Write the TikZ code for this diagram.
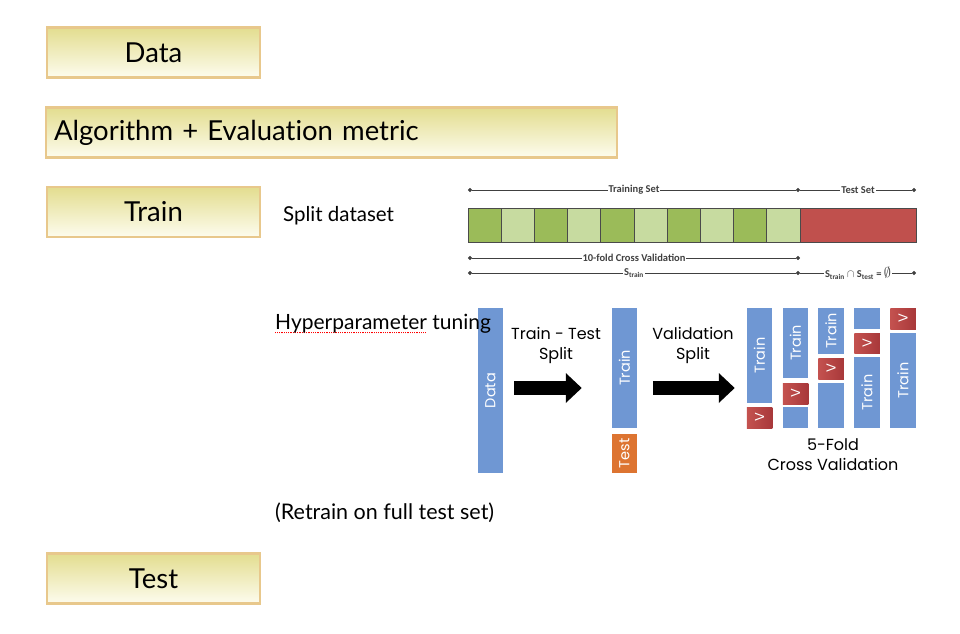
\documentclass[tikz,border=0pt]{standalone}
\usepackage{fontspec}
\usepackage{graphicx}
\setmainfont{Lato}[Ligatures=NoCommon]
\newfontfamily\gothicfont{Poppins}
\newfontfamily\calibfont{Carlito}
\usepackage{tikz}
\usetikzlibrary{calc,arrows.meta,positioning}
\definecolor{stageTop}{HTML}{E3DD8F}
\definecolor{stageBot}{HTML}{FDFCEE}
\definecolor{stageLine}{HTML}{E8C88C}
\definecolor{foldDark}{HTML}{9BBB59}
\definecolor{foldLight}{HTML}{C7DBA0}
\definecolor{testRed}{HTML}{C0504D}
\definecolor{cellLine}{HTML}{4A4A4A}
\definecolor{spanGrey}{HTML}{404040}
\definecolor{barBlue}{HTML}{6F97D3}
\definecolor{barOrange}{HTML}{DD7431}
\definecolor{vRed}{HTML}{C4524F}
\definecolor{vRedDark}{HTML}{A8383A}
\newsavebox\spellbox
\newcommand\spellmark[1]{\sbox\spellbox{#1}\rlap{\raisebox{-3.5pt}{\textcolor{red}{\leaders\hbox to 1.8pt{\rule{0.9pt}{0.9pt}\hss}\hskip\wd\spellbox}}}\usebox\spellbox}
\tikzset{
  stagebox/.style={rectangle, draw=stageLine, line width=2.4pt, top color=stageTop, bottom color=stageBot, minimum height=50, inner sep=0pt, font=\fontsize{27.5}{30}\selectfont},
  notetext/.style={inner sep=0pt, anchor=west, font=\fontsize{20.5}{24}\selectfont},
  % --- split bar ---
  foldcell/.style={rectangle, draw=cellLine, line width=0.8pt, minimum width=33.2, minimum height=34, inner sep=0pt, outer sep=0pt},
  spanline/.style={{Circle[length=4pt]}-{Circle[length=4pt]}, line width=0.7pt, draw=spanGrey},
  spanrest/.style={-{Circle[length=4pt]}, line width=0.7pt, draw=spanGrey},
  spanlabel/.style={fill=white, inner sep=1pt, text=spanGrey, font=\calibfont\bfseries\fontsize{10.5}{12}\selectfont},
  % --- cross validation sketch ---
  cvbar/.style={rectangle, fill=#1, minimum width=25.5, inner sep=0pt, outer sep=0pt, text=white, font=\gothicfont\fontsize{14.5}{16}\selectfont},
  cvbar/.default=barBlue,
  vbox/.style={rectangle, left color=vRed, right color=vRedDark, minimum width=25.5, inner sep=0pt, outer sep=0pt, text=white, font=\gothicfont\fontsize{13}{15}\selectfont},
  cvlabel/.style={align=center, inner sep=0pt, font=\gothicfont\fontsize{16}{20}\selectfont},
  bigarrow/.style={-{Triangle[length=16pt,width=29pt]}, line width=14pt, draw=black},
}

\begin{document}
\begin{tikzpicture}[x=1pt,y=-1pt]
  \useasboundingbox (0,0) rectangle (960,633);

  \node[stagebox, minimum width=213] (data) at (153.5,52.5) {Data};
  \node[stagebox, minimum width=571, text width=555, align=left] (algo) at (331.5,132.5) {Algorithm + Evaluation metric};
  \node[stagebox, minimum width=213] (train) at (153.5,212) {Train};
  \node[stagebox, minimum width=213] (test) at (153.5,578.5) {Test};

  \node[notetext] (split) at (283,216) {Split dataset};

  % 10 folds + test part
  \foreach \i in {0,...,9} {
    \ifodd\i \def\cellcol{foldLight}\else \def\cellcol{foldDark}\fi
    \node[foldcell, fill=\cellcol] (cell\i) at ({468+33.2*\i+16.6},225) {};
  }
  \node[foldcell, fill=testRed, minimum width=116] (testcell) at (858,225) {};

  \coordinate (tr0) at (cell0.north west |- 0,190);
  \coordinate (tr1) at (cell9.north east |- 0,190);
  \coordinate (tr2) at (testcell.north east |- 0,190);
  \coordinate (cv0) at (cell0.south west |- 0,258);
  \coordinate (cv1) at (cell9.south east |- 0,258);
  \coordinate (st0) at (cell0.south west |- 0,273);
  \coordinate (st1) at (cell9.south east |- 0,273);
  \coordinate (st2) at (testcell.south east |- 0,273);

  \draw[spanline] (tr0) -- (tr1) node[spanlabel, midway] {Training Set};
  \draw[spanrest] (tr1) -- (tr2) node[spanlabel, midway] {Test Set};
  \draw[spanline] (cv0) -- (cv1) node[spanlabel, midway] {10-fold Cross Validation};
  \draw[spanline] (st0) -- (st1) node[spanlabel, midway] {S\textsubscript{train}};
  \draw[spanrest] (st1) -- (st2) node[spanlabel, midway] {S\textsubscript{train} $\cap$ S\textsubscript{test} = \scalebox{1.3}{$\emptyset$}};

  % train / test / validation sketch
  \node[cvbar, minimum height=165] (dcol) at (490.5,390.5) {\rotatebox{90}{Data}};
  \node[cvbar, minimum height=120] (tcol) at (624.5,368) {\rotatebox{90}{Train}};
  \node[cvbar=barOrange, minimum height=39] (ecol) at (624.5,453.5) {\rotatebox{90}{Test}};

  \node[cvbar, minimum height=95] (f1a) at (759.5,355.5) {\rotatebox{90}{Train}};
  \node[vbox, minimum height=21] (f1v) at (759.5,417.5) {\rotatebox{90}{V}};

  \node[cvbar, minimum height=70] (f2a) at (795.5,343) {\rotatebox{90}{Train}};
  \node[vbox, minimum height=21] (f2v) at (795.5,393.5) {\rotatebox{90}{V}};
  \node[cvbar, minimum height=21] (f2b) at (795.5,417.5) {};

  \node[cvbar, minimum height=46] (f3a) at (831,331) {\rotatebox{90}{Train}};
  \node[vbox, minimum height=21] (f3v) at (831,368.5) {\rotatebox{90}{V}};
  \node[cvbar, minimum height=45] (f3b) at (831,405.5) {};

  \node[cvbar, minimum height=21] (f4a) at (867,318.5) {};
  \node[vbox, minimum height=20] (f4v) at (867,343) {\rotatebox{90}{V}};
  \node[cvbar, minimum height=71] (f4b) at (867,392.5) {\rotatebox{90}{Train}};

  \node[vbox, minimum height=21] (f5v) at (903,318.5) {\rotatebox{90}{V}};
  \node[cvbar, minimum height=95] (f5a) at (903,380.5) {\rotatebox{90}{Train}};

  \node[cvlabel] (ttsplit) at (556,345) {Train - Test\\Split};
  \node[cvlabel] (vsplit) at (693,345) {Validation\\Split};
  \node[cvlabel] (fivefold) at (833,455) {5-Fold\\Cross Validation};

  \draw[bigarrow, shorten <=11pt, shorten >=30pt] ([yshift=2.5pt]dcol.east) -- ([yshift=2.5pt]dcol.east -| tcol.west);
  \draw[bigarrow, shorten <=15.5pt, shorten >=12pt] ([yshift=2.5pt]dcol.east -| tcol.east) -- ([yshift=2.5pt]dcol.east -| f1a.west);

  \node[notetext, font=\fontsize{21}{24}\selectfont] (hyper) at (275,324) {\spellmark{Hyperparameter} tuning};
  \node[notetext, font=\fontsize{21.5}{24}\selectfont] (retrain) at (275,513) {(Retrain on full test set)};
\end{tikzpicture}
\end{document}
